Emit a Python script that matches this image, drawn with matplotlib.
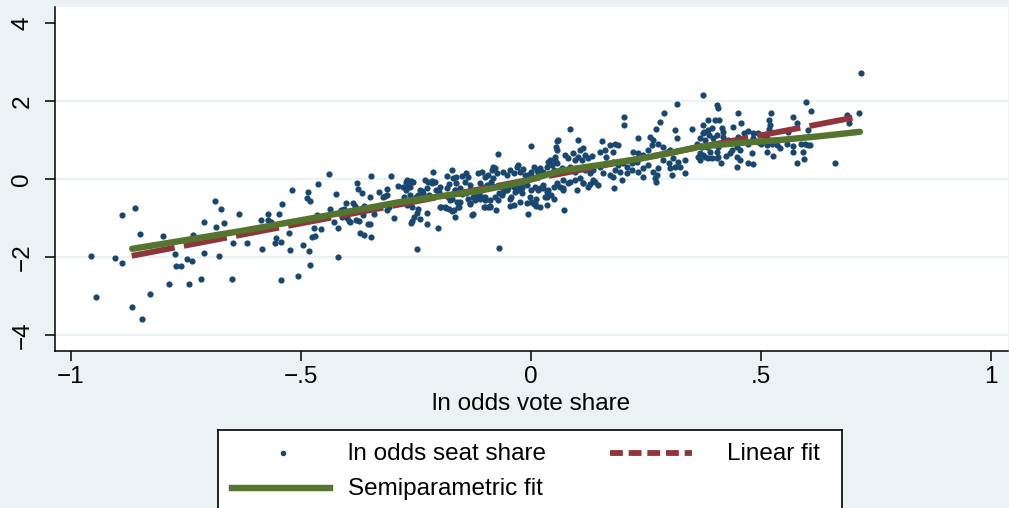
import matplotlib
matplotlib.use("Agg")
import matplotlib.pyplot as plt

plt.rcParams["font.family"] = ["Liberation Sans", "DejaVu Sans"]

# ln odds vote share (x) vs ln odds seat share (y)
seat_x = [
    -0.956, -0.946, -0.904, -0.889, -0.889, -0.861, -0.850, -0.868, -0.846, -0.828,
    -0.799, -0.786, -0.774, -0.772, -0.761, -0.748, -0.738, -0.743, -0.735, -0.717,
    -0.710, -0.710, -0.686, -0.675, -0.684, -0.667, -0.678, -0.651, -0.647, -0.635,
    -0.617, -0.588, -0.584, -0.572, -0.572, -0.566, -0.547, -0.542, -0.556, -0.554,
    -0.543, -0.543, -0.527, -0.525, -0.519, -0.506, -0.496, -0.485, -0.486, -0.480,
    -0.483, -0.480, -0.476, -0.469, -0.471, -0.465, -0.463, -0.457, -0.438, -0.428,
    -0.424, -0.420, -0.419, -0.439,
    -0.417, -0.412, -0.407, -0.402, -0.410, -0.400, -0.395, -0.393, -0.380, -0.388,
    -0.382, -0.379, -0.376, -0.367, -0.373, -0.372, -0.362, -0.365, -0.363, -0.359,
    -0.354, -0.350, -0.348, -0.350, -0.348, -0.341, -0.330, -0.321, -0.317, -0.313,
    -0.314, -0.312, -0.309, -0.305, -0.297, -0.290,
    -0.276, -0.262, -0.250, -0.245, -0.272, -0.265, -0.261, -0.271, -0.264, -0.260,
    -0.258, -0.255, -0.247, -0.245, -0.248, -0.241, -0.236, -0.225, -0.226, -0.227,
    -0.223, -0.216, -0.202, -0.207, -0.198, -0.200, -0.196, -0.185, -0.178, -0.180,
    -0.176, -0.171, -0.172, -0.168, -0.165, -0.160, -0.156, -0.183, -0.178, -0.165,
    -0.162, -0.151, -0.142, -0.138, -0.143, -0.133, -0.133, -0.127, -0.118, -0.112,
    -0.107, -0.102, -0.093, -0.089, -0.101, -0.096, -0.088, -0.082, -0.077, -0.070,
    -0.070, -0.064, -0.060, -0.060, -0.053, -0.046, -0.038, -0.044, -0.035, -0.028,
    -0.020, -0.019, -0.009, -0.006, 0.000, 0.007, 0.011, 0.011, 0.016, 0.027,
    0.034, 0.034, 0.043, 0.056, 0.063, 0.070, 0.071, 0.085, 0.099, 0.114,
    0.128, 0.139, 0.146, 0.180, 0.272,
    -0.212, -0.172, -0.183, -0.170, -0.162, -0.151, -0.142, -0.138, -0.270, -0.267,
    -0.256, -0.278, -0.269, -0.259, -0.241, -0.234, -0.221, -0.230, -0.216, -0.209,
    -0.198, -0.187, -0.158, -0.154, -0.165, -0.154, -0.133, -0.125, -0.129, -0.133,
    -0.122, -0.115, -0.107, -0.100, -0.093, -0.085, -0.078, -0.074, -0.082, -0.111,
    -0.104, -0.072, -0.111, -0.100, -0.089, -0.078, -0.071, -0.100, -0.089,
    -0.060, -0.053, -0.046, -0.038, -0.031, -0.028, -0.024, -0.017, -0.013, -0.064,
    -0.049, -0.038, -0.028, -0.020, -0.046, -0.024, -0.009, -0.002, 0.001, -0.006,
    0.001, 0.005, 0.012, 0.016, 0.020, 0.027, 0.034, 0.038, 0.045, 0.049,
    0.052, 0.056, 0.059, 0.056, 0.001, 0.009, 0.020, 0.027, 0.038, 0.049,
    0.056, 0.009, 0.020, 0.030, 0.034, 0.049, -0.082, 0.007, 0.041, 0.052,
    0.056, 0.054,
    0.085, 0.103, 0.107, 0.114, 0.074, 0.081, 0.092, 0.096, 0.103, 0.110,
    0.117, 0.125, 0.132, 0.067, 0.074, 0.085, 0.096, 0.107, 0.117, 0.128,
    0.135, 0.070, 0.081, 0.096, 0.107, 0.114, 0.125, 0.135, 0.070, 0.150,
    0.161, 0.172, 0.183, 0.190, 0.179, 0.164, 0.155, 0.150, 0.164, 0.179,
    0.190, 0.201, 0.208, 0.219, 0.230, 0.157, 0.172, 0.183, 0.193, 0.208,
    0.219, 0.233, 0.179, 0.197, 0.203, 0.203, 0.233, 0.222, 0.233, 0.244,
    0.255, 0.262, 0.266, 0.259, 0.244, 0.255, 0.266, 0.277, 0.270, 0.273,
    0.244, 0.271, 0.280, 0.290, 0.277, 0.288, 0.295, 0.302, 0.288, 0.299,
    0.309, 0.320, 0.313, 0.302, 0.324, 0.335, 0.313, 0.317, 0.318, 0.335,
    0.306, 0.349, 0.360, 0.367, 0.375, 0.385, 0.375, 0.375, 0.364, 0.375,
    0.385, 0.393, 0.404, 0.400, 0.404, 0.407, 0.393, 0.404,
    0.451, 0.522, 0.597, 0.608, 0.717, 0.714, 0.686, 0.692, 0.661,
    0.385, 0.376, 0.378, 0.371, 0.367, 0.388, 0.396, 0.409, 0.415, 0.417,
    0.417, 0.440, 0.456, 0.451, 0.462, 0.472, 0.483, 0.494, 0.505, 0.512,
    0.520, 0.518, 0.517, 0.382, 0.393, 0.407, 0.429, 0.440, 0.447, 0.454,
    0.462, 0.472, 0.483, 0.494, 0.501, 0.512, 0.523, 0.534, 0.367, 0.378,
    0.407, 0.425, 0.433, 0.447, 0.454, 0.472, 0.483, 0.480, 0.512, 0.527,
    0.541, 0.556, 0.570, 0.569, 0.579, 0.588, 0.591, 0.593, 0.596, 0.603,
    0.607, 0.448, 0.413, 0.389, 0.404, 0.436, 0.559, 0.569, 0.578, 0.603,
]
seat_y = [
    -1.98, -3.03, -2.03, -2.15, -0.93, -0.74, -1.40, -3.27, -3.60, -2.94,
    -1.46, -2.69, -1.93, -2.22, -2.22, -2.06, -2.09, -2.68, -1.43, -2.57,
    -1.09, -1.91, -0.56, -0.76, -1.23, -1.13, -1.98, -2.56, -1.63, -0.89,
    -1.65, -1.05, -1.80, -0.91, -1.05, -1.10, -0.89, -0.64, -1.65, -1.51,
    -1.61, -2.59, -1.38, -1.82, -0.28, -2.49, -1.68, -0.33, -0.48, -0.56,
    -1.85, -2.20, -1.48, -1.45, -1.26, -0.92, -0.13, -1.27, -0.76, -1.11,
    -0.38, -1.26, -2.00, 0.14,
    -0.86, -0.79, -0.78, -0.61, -0.97, -1.00, -1.07, -1.10, -1.06, -0.61,
    -0.68, -0.09, -0.26, -0.37, -1.07, -1.38, -1.44, -0.92, -0.69, -0.74,
    -1.15, -1.15, -1.48, -0.45, 0.08, -0.89, -0.34, -0.45, -0.43, -0.42,
    -0.26, -0.79, -0.73, 0.08, -0.99, -0.17,
    -0.45, -0.42, -0.45, -0.40, -0.07, -0.11, -0.05, -0.27, -0.21, -1.14,
    -1.07, -0.98, -0.88, -0.78, -1.79, -1.03, -0.31, -0.88, -1.16, -0.24,
    -0.07, -0.11, -1.26, -0.27, -0.20, -0.33, -0.73, -0.75, -0.78, -0.45,
    -0.54, -0.50, -0.82, -0.79, -0.98, -0.58, -0.71, -0.24, -0.13, -0.27,
    -0.10, -0.38, -0.37, -0.50, -0.07, -0.15, -0.64, -0.91, -0.41, -0.35,
    -0.45, -0.73, -0.71, -0.69, -0.54, -0.15, -0.07, -0.18, -0.79, -1.76,
    -0.37, -0.41, -0.34, -0.20, -0.28, -0.69, -0.67, -0.47, -0.33, -0.27,
    -0.35, -0.09, -0.15, -0.90, -0.58, -0.65, -0.68, -0.50, -0.28, -0.24,
    -0.33, -0.45, -0.41, -0.15, -0.20, -0.28, -0.79, -0.07, -0.28, -0.09,
    -0.13, -0.07, -0.15, -0.24, -0.07,
    0.18, 0.23, 0.08, 0.02, 0.06, 0.08, 0.15, 0.04, -0.03, -0.15,
    -0.07, -0.20, -0.67, -0.71, -0.28, -0.37, -0.41, -0.03, -0.04, -0.07,
    -0.71, -0.73, -0.71, -0.58, -0.28, -0.24, -0.28, -0.45, -0.92, -0.62,
    -0.54, 0.15, 0.19, 0.06, 0.10, 0.23, 0.27, 0.15, 0.02, -0.11,
    -0.20, 0.63, -0.50, -0.45, -0.54, -0.45, -0.54, -0.71, -0.71,
    0.19, 0.10, 0.23, 0.15, 0.32, 0.36, 0.19, 0.25, 0.10, -0.20,
    -0.24, -0.20, -0.15, -0.24, -0.50, -0.58, -0.62, -0.45, 0.84, 0.10,
    0.19, 0.06, 0.23, 0.15, 0.27, 0.19, 0.32, 0.44, 0.36, 0.23,
    0.49, 0.40, 1.00, 0.74, -0.28, -0.20, -0.24, -0.15, -0.28, -0.20,
    -0.11, -0.62, -0.71, -0.45, -0.67, -0.50, 0.30, 0.32, 0.49, 0.57,
    0.98, 0.83,
    1.28, 1.00, 0.74, 0.79, 0.62, 0.53, 0.66, 0.49, 0.57, 0.49,
    0.62, 0.53, 0.59, 0.27, 0.23, 0.32, 0.19, 0.27, 0.23, 0.15,
    0.23, -0.03, -0.11, -0.03, 0.02, -0.11, -0.20, -0.03, -0.24, 0.70,
    0.74, 0.87, 0.90, 0.87, 0.70, 0.57, 0.98, 0.32, 0.40, 0.44,
    0.36, 0.40, 0.32, 0.40, 0.44, 0.15, 0.10, 0.23, 0.19, 0.15,
    0.23, 0.19, 0.06, -0.03, 1.60, 1.38, 1.04, 0.70, 0.66, 0.62,
    0.74, 0.87, 1.00, 1.08, 0.27, 0.36, 0.19, 0.27, 0.02, 0.10,
    0.06, 1.28, 1.47, 1.68, 0.91, 0.83, 0.70, 0.74, 0.49, 0.40,
    0.53, 0.44, 0.32, 0.27, 0.32, 0.49, 1.26, 1.92, 1.04, 0.15,
    0.10, 1.27, 0.91, 1.04, 1.17, 1.26, 2.15, 1.38, 0.57, 0.62,
    0.53, 0.55, 0.53, 1.51, 1.90, 1.81, 1.30, 1.13,
    1.68, 1.70, 1.98, 1.74, 2.71, 1.70, 1.64, 1.43, 0.40,
    1.50, 1.21, 1.00, 0.83, 0.49, 1.13, 1.04, 1.50, 1.30, 1.21,
    1.08, 1.34, 1.44, 1.08, 1.17, 1.23, 1.17, 1.17, 1.13, 1.04,
    1.38, 1.27, 1.51, 0.83, 0.91, 0.83, 1.00, 0.96, 0.83, 0.74,
    1.00, 0.91, 1.04, 0.96, 0.91, 0.87, 0.91, 0.87, 0.66, 0.57,
    0.57, 0.59, 0.66, 0.57, 0.49, 0.42, 0.38, 0.66, 0.68, 0.60,
    0.79, 0.91, 0.85, 0.69, 0.42, 0.91, 0.69, 0.52, 0.91, 0.87,
    0.86, 0.30, 0.42, 0.70, 0.70, 0.74, 1.21, 1.58, 1.44, 1.26,
]

# linear fit end points
lin_x = [-0.868, 0.717]
lin_y = [-1.97, 1.61]

# semiparametric fit
semi_x = [-0.867, -0.633, -0.459, -0.285, -0.111, -0.020, 0.063, 0.150,
          0.237, 0.300, 0.367, 0.450, 0.541, 0.630, 0.715]
semi_y = [-1.79, -1.34, -0.97, -0.59, -0.30, -0.08, 0.21, 0.36,
          0.52, 0.66, 0.83, 0.92, 1.00, 1.10, 1.21]

x_ticks = [-1, -0.5, 0, 0.5, 1]
x_tick_labels = ["\u22121", "\u2212.5", "0", ".5", "1"]
y_ticks = [-4, -2, 0, 2, 4]
y_tick_labels = ["\u22124", "\u22122", "0", "2", "4"]
grid_y = [-4, -2, 0, 2]

BG = "#eaf2f3"
NAVY = "#1a476f"
MAROON = "#90353b"
GREEN = "#55752f"
FS = 17.5

W, H = 1009, 508
fig = plt.figure(figsize=(W / 100, H / 100), dpi=100, facecolor=BG)
ax = fig.add_axes([55 / W, 1 - 351 / H, (1008 - 55) / W, (351 - 7) / H])
ax.set_facecolor("white")

for g in grid_y:
    ax.axhline(g, color=BG, lw=1.6, zorder=0)

ax.scatter(seat_x, seat_y, s=20, color=NAVY, linewidths=0, zorder=2)
ax.plot(lin_x, lin_y, color=MAROON, lw=4.2, dashes=(7.5, 1.6), zorder=3)
ax.plot(semi_x, semi_y, color=GREEN, lw=4.6, solid_capstyle="round", zorder=4)

ax.set_xlim(-1.0348, 1.037)
ax.set_ylim(-4.41, 4.41)
ax.set_xticks(x_ticks)
ax.set_xticklabels(x_tick_labels)
ax.set_yticks(y_ticks)
ax.set_yticklabels(y_tick_labels, rotation=90, va="center")
ax.tick_params(direction="out", length=7.5, width=1.1, labelsize=FS, color="black")
ax.tick_params(axis="x", pad=3)
ax.tick_params(axis="y", pad=8)
for side in ["top", "right"]:
    ax.spines[side].set_visible(False)
for side in ["left", "bottom"]:
    ax.spines[side].set_linewidth(1.1)
ax.set_xlabel("ln odds vote share", fontsize=FS, labelpad=4)

# legend box, drawn in its own axes with pixel coordinates
leg = fig.add_axes([218 / W, 0, (842 - 218) / W, (508 - 430) / H])
leg.set_facecolor("white")
leg.set_xlim(218, 842)
leg.set_ylim(508, 430)
leg.set_xticks([])
leg.set_yticks([])
leg.spines["bottom"].set_visible(False)
for side in ["top", "left", "right"]:
    leg.spines[side].set_linewidth(1.2)
leg.plot([283], [453], "o", color=NAVY, ms=3)
leg.text(348, 454, "ln odds seat share", fontsize=FS, va="center", ha="left")
leg.plot([610, 692], [453, 453], color=MAROON, lw=4.2, dashes=(2.2, 1.0))
leg.text(727, 454, "Linear fit", fontsize=FS, va="center", ha="left")
leg.plot([232, 330], [488, 488], color=GREEN, lw=4.6)
leg.text(348, 489, "Semiparametric fit", fontsize=FS, va="center", ha="left")

fig.savefig("out.png", dpi=100, facecolor=BG)
